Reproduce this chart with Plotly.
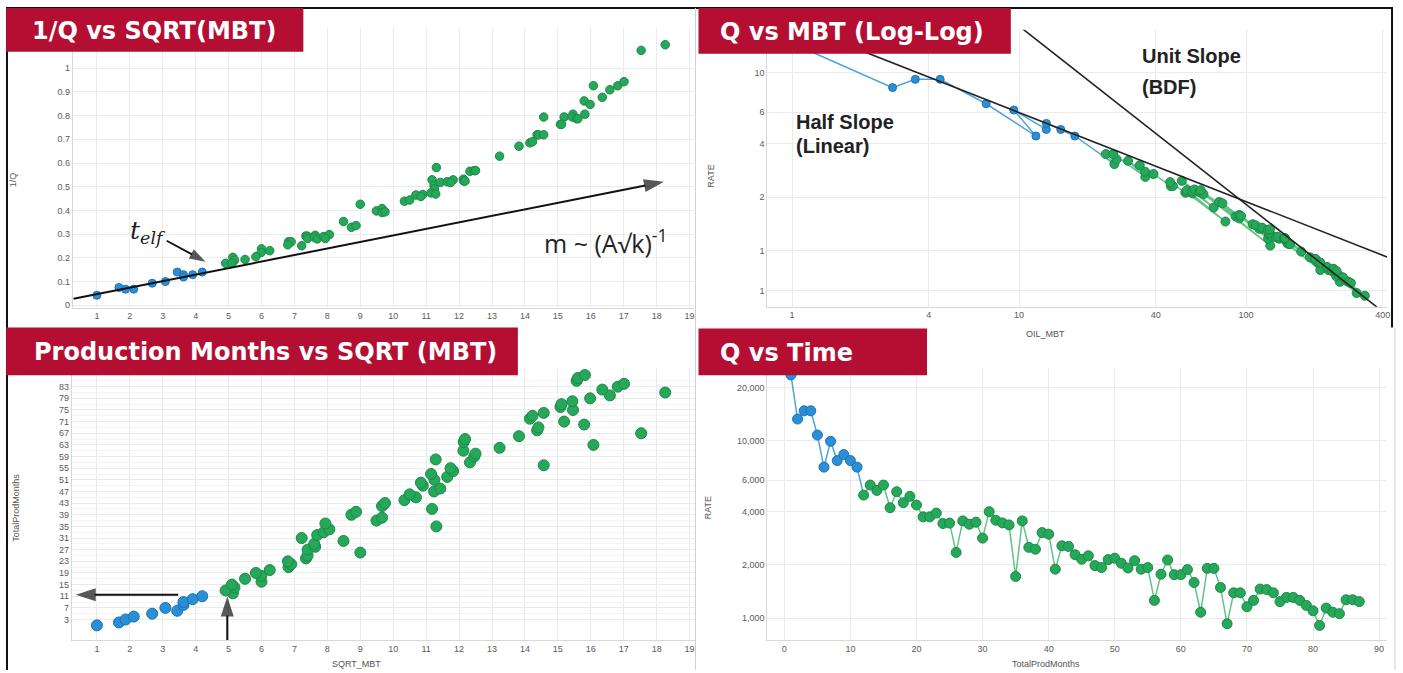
import plotly.graph_objects as go

# ---------------- data ----------------
months = [1, 2, 3, 4, 5, 6, 7, 8, 9, 10, 11, 12, 13, 14, 15, 16, 17, 18, 19, 20,
          21, 22, 23, 24, 25, 26, 27, 28, 29, 30, 31, 32, 33, 34, 35, 36, 37, 38, 39, 40,
          41, 42, 43, 44, 45, 46, 47, 48, 49, 50, 51, 52, 53, 54, 55, 56, 57, 58, 59, 60,
          61, 62, 63, 64, 65, 66, 67, 68, 69, 70, 71, 72, 73, 74, 75, 76, 77, 78, 79, 80,
          81, 82, 83, 84, 85, 86, 87]

rate = [23600, 13300, 14800, 14800, 10800, 7120, 9960, 7750, 8380, 7750, 7120,
        4950, 5640, 5260, 5640, 4200, 5170, 4480, 4870, 4350, 3730, 3730, 3920, 3420,
        3440, 2350, 3540, 3390, 3480, 2830, 3990, 3570, 3450, 3360, 1720, 3540, 2510,
        2450, 3040, 2980, 1890, 2560, 2540, 2280, 2150, 2250, 1980, 1930, 2140, 2180,
        2040, 1920, 2110, 1890, 1930, 1260, 1770, 2130, 1760, 1760, 1880, 1590, 1080,
        1910, 1910, 1490, 930, 1390, 1390, 1160, 1260, 1460, 1450, 1390, 1240, 1310,
        1310, 1260, 1180, 1100, 910, 1140, 1080, 1060, 1270, 1270, 1240]

sqrt_mbt = [1.00, 1.67, 1.87, 2.12, 2.68, 3.44, 3.08, 3.63, 3.63, 3.91, 4.20,
            5.13, 4.91, 5.18, 5.10, 6.00, 5.50, 5.99, 5.83, 6.25, 6.82, 6.90, 6.80, 7.35,
            7.40, 9.00, 7.40, 7.63, 7.60, 8.49, 7.22, 7.69, 7.89, 8.06, 11.31, 7.94, 9.49,
            9.66, 8.73, 8.87, 11.18, 9.66, 9.75, 10.34, 10.69, 10.50, 11.24, 11.43, 10.90,
            10.84, 11.25, 11.64, 11.15, 11.82, 11.74, 14.57, 12.33, 11.29, 12.46, 12.50,
            12.13, 13.23, 16.08, 12.14, 12.18, 13.82, 17.53, 14.37, 14.41, 15.80, 15.19,
            14.15, 14.23, 14.57, 15.46, 15.08, 15.11, 15.44, 15.98, 16.58, 18.26, 16.35,
            16.82, 17.01, 15.57, 15.61, 15.82]

inv_q = [0.042, 0.075, 0.068, 0.068, 0.093, 0.140, 0.100, 0.129, 0.119, 0.129, 0.140,
         0.202, 0.177, 0.190, 0.177, 0.238, 0.193, 0.223, 0.205, 0.230, 0.268, 0.268,
         0.255, 0.292, 0.291, 0.426, 0.282, 0.295, 0.287, 0.353, 0.251, 0.280, 0.290,
         0.298, 0.581, 0.282, 0.398, 0.408, 0.329, 0.336, 0.529, 0.391, 0.394, 0.439,
         0.465, 0.444, 0.505, 0.518, 0.467, 0.459, 0.490, 0.521, 0.474, 0.529, 0.518,
         0.794, 0.565, 0.469, 0.568, 0.568, 0.532, 0.629, 0.926, 0.524, 0.524, 0.671,
         1.075, 0.719, 0.719, 0.862, 0.794, 0.685, 0.690, 0.719, 0.806, 0.763, 0.763,
         0.794, 0.847, 0.909, 1.099, 0.877, 0.926, 0.943, 0.787, 0.787, 0.806]

oil_mbt = [1.0, 2.77, 3.49, 4.49, 7.16, 11.86, 9.48, 13.18, 13.19, 15.26, 17.61,
           26.3, 24.1, 26.9, 26.0, 36.0, 30.2, 35.9, 34.0, 39.1, 46.6, 47.6, 46.3, 54.0,
           54.7, 81.1, 54.8, 58.2, 57.7, 72.0, 52.1, 59.2, 62.3, 64.9, 127.8, 63.1, 90.0,
           93.2, 76.1, 78.7, 125.0, 93.3, 95.0, 106.9, 114.3, 110.2, 126.3, 130.5, 118.7,
           117.6, 126.6, 135.5, 124.3, 139.8, 137.9, 212.3, 152.1, 127.4, 155.2, 156.2,
           147.2, 175.0, 258.7, 147.3, 148.3, 191.1, 307.1, 206.5, 207.5, 249.6, 230.8,
           200.2, 202.6, 212.3, 239.0, 227.2, 228.2, 238.3, 255.5, 275.0, 333.5, 267.2,
           283.0, 289.4, 242.5, 243.5, 250.4]

rate_loglog = [14.62, 8.24, 9.17, 9.17, 6.69, 4.41, 6.17, 4.80, 5.19, 4.80, 4.41,
               3.07, 3.49, 3.26, 3.49, 2.60, 3.20, 2.78, 3.02, 2.70, 2.31, 2.31, 2.43,
               2.12, 2.13, 1.46, 2.19, 2.10, 2.16, 1.75, 2.47, 2.21, 2.14, 2.08, 1.07,
               2.19, 1.56, 1.52, 1.88, 1.85, 1.17, 1.59, 1.57, 1.41, 1.33, 1.39, 1.23,
               1.20, 1.33, 1.35, 1.26, 1.19, 1.31, 1.17, 1.20, 0.78, 1.10, 1.32, 1.09,
               1.09, 1.16, 0.99, 0.67, 1.18, 1.18, 0.92, 0.58, 0.86, 0.86, 0.72, 0.78,
               0.90, 0.90, 0.86, 0.77, 0.81, 0.81, 0.78, 0.73, 0.68, 0.56, 0.71, 0.67,
               0.66, 0.79, 0.79, 0.77]

N_EARLY = 11  # early-time (linear flow) points drawn in blue

half_slope_x = [1.2, 430]
half_slope_y = [17.25, 0.911]
unit_slope_x = [10.0, 400]
unit_slope_y = [18.25, 0.456]

# annotation arrows (tail -> tip), in data units of their panel
trend_arrow_x = [0.29, 18.22]
trend_arrow_y = [0.027, 0.521]
telf_arrow_x = [3.12, 4.30]
telf_arrow_y = [0.272, 0.184]
months_arrow_x = [3.47, 0.36]
months_arrow_y = [11.5, 11.5]
telf_mark_x = [4.96, 4.96]
telf_mark_y = [-4.08, 10.9]

sqrt_ticks = list(range(1, 20))
invq_ticks = [0, 0.1, 0.2, 0.3, 0.4, 0.5, 0.6, 0.7, 0.8, 0.9, 1]
invq_labels = ["0", "0.1", "0.2", "0.3", "0.4", "0.5", "0.6", "0.7", "0.8", "0.9", "1"]
mbt_ticks = [1, 4, 10, 40, 100, 400]
ll_rate_ticks = [0.6, 1, 2, 4, 6, 10]
ll_rate_labels = ["1", "1", "2", "4", "6", "10"]
month_ticks = [3, 7, 11, 15, 19, 23, 27, 31, 35, 39, 43, 47, 51, 55, 59, 63, 67, 71, 75, 79, 83]
time_ticks = [0, 10, 20, 30, 40, 50, 60, 70, 80, 90]
rate_ticks = [1000, 2000, 4000, 6000, 10000, 20000]
rate_labels = ["1,000", "2,000", "4,000", "6,000", "10,000", "20,000"]

titles = ["1/Q vs SQRT(MBT)", "Q vs MBT (Log-Log)",
          "Production Months vs SQRT (MBT)", "Q vs Time"]

# ---------------- styling ----------------
W, H = 1403, 673
BLUE = "#2a8fd6"
BLUE_DK = "#1d72b3"
BLUE_LN = "#4aa3df"
GREEN = "#26a85a"
GREEN_DK = "#1b8a47"
GREEN_LN = "#62c287"
RED = "#b40e32"
GRID = "#ebebeb"
TICKFONT = dict(family="Liberation Sans, Arial, sans-serif", size=9, color="#5a5a5a")


def px(x):
    return x / W


def py(y):
    return 1 - y / H


b = N_EARLY
fig = go.Figure()

# Panel 1: 1/Q vs SQRT(MBT)
fig.add_trace(go.Scatter(x=sqrt_mbt[:b], y=inv_q[:b], mode="markers", xaxis="x", yaxis="y",
                         marker=dict(size=8, color=BLUE, line=dict(color=BLUE_DK, width=1))))
fig.add_trace(go.Scatter(x=sqrt_mbt[b:], y=inv_q[b:], mode="markers", xaxis="x", yaxis="y",
                         marker=dict(size=8.5, color=GREEN, line=dict(color=GREEN_DK, width=1))))

# Panel 2: Q vs MBT (log-log)
fig.add_trace(go.Scatter(x=oil_mbt[b - 1:b + 1], y=rate_loglog[b - 1:b + 1], mode="lines",
                         xaxis="x2", yaxis="y2", line=dict(color=BLUE_LN, width=1.5)))
fig.add_trace(go.Scatter(x=oil_mbt[:b], y=rate_loglog[:b], mode="lines+markers",
                         xaxis="x2", yaxis="y2", line=dict(color=BLUE_LN, width=1.5),
                         marker=dict(size=8, color=BLUE, line=dict(color=BLUE_DK, width=1))))
fig.add_trace(go.Scatter(x=oil_mbt[b:], y=rate_loglog[b:], mode="lines+markers",
                         xaxis="x2", yaxis="y2", line=dict(color=GREEN_LN, width=1.5),
                         marker=dict(size=9, color=GREEN, line=dict(color=GREEN_DK, width=1))))
fig.add_trace(go.Scatter(x=half_slope_x, y=half_slope_y, mode="lines", xaxis="x2", yaxis="y2",
                         line=dict(color="#222222", width=1.6)))
fig.add_trace(go.Scatter(x=unit_slope_x, y=unit_slope_y, mode="lines", xaxis="x2", yaxis="y2",
                         line=dict(color="#222222", width=1.6)))

# Panel 3: Production months vs SQRT(MBT)
fig.add_trace(go.Scatter(x=sqrt_mbt[:b], y=months[:b], mode="markers", xaxis="x3", yaxis="y3",
                         marker=dict(size=11, color=BLUE, line=dict(color=BLUE_DK, width=1))))
fig.add_trace(go.Scatter(x=sqrt_mbt[b:], y=months[b:], mode="markers", xaxis="x3", yaxis="y3",
                         marker=dict(size=11, color=GREEN, line=dict(color=GREEN_DK, width=1))))

# Panel 4: Q vs Time
fig.add_trace(go.Scatter(x=months[b - 1:b + 1], y=rate[b - 1:b + 1], mode="lines",
                         xaxis="x4", yaxis="y4", line=dict(color=BLUE_LN, width=1.5)))
fig.add_trace(go.Scatter(x=months[:b], y=rate[:b], mode="lines+markers", xaxis="x4", yaxis="y4",
                         line=dict(color=BLUE_LN, width=1.5),
                         marker=dict(size=10, color=BLUE, line=dict(color=BLUE_DK, width=1))))
fig.add_trace(go.Scatter(x=months[b:], y=rate[b:], mode="lines+markers", xaxis="x4", yaxis="y4",
                         line=dict(color=GREEN_LN, width=1.5),
                         marker=dict(size=10, color=GREEN, line=dict(color=GREEN_DK, width=1))))


# Arrows drawn as line traces with an arrow marker at the tip
def arrow(xs, ys, xa, ya, width=2, head=21):
    fig.add_trace(go.Scatter(x=xs, y=ys, mode="lines+markers", xaxis=xa, yaxis=ya,
                             line=dict(color="#111111", width=width),
                             marker=dict(symbol="arrow", angleref="previous", size=[0, head],
                                         color="#111111", line=dict(width=0)),
                             cliponaxis=False))


arrow(trend_arrow_x, trend_arrow_y, "x", "y")
arrow(telf_arrow_x, telf_arrow_y, "x", "y", width=1.8, head=17)
arrow(months_arrow_x, months_arrow_y, "x3", "y3")
arrow(telf_mark_x, telf_mark_y, "x3", "y3")


def axis(**kw):
    d = dict(showgrid=True, gridcolor=GRID, gridwidth=1, zeroline=False, showline=True,
             linecolor="#d8d8d8", linewidth=1, ticks="", tickfont=TICKFONT, fixedrange=True)
    d.update(kw)
    return d


fig.update_layout(
    width=W, height=H, autosize=False, showlegend=False,
    margin=dict(l=0, r=0, t=0, b=0),
    paper_bgcolor="white", plot_bgcolor="white",
    xaxis=axis(domain=[px(73), px(695)], range=[0.27, 19.12], tickvals=sqrt_ticks, anchor="y"),
    yaxis=axis(domain=[py(309), py(28)], range=[-0.01, 1.17], tickvals=invq_ticks,
               ticktext=invq_labels, anchor="x"),
    xaxis2=axis(type="log", domain=[px(769), px(1390)], range=[-0.109, 2.621],
                tickvals=mbt_ticks, ticktext=[str(v) for v in mbt_ticks], anchor="y2"),
    yaxis2=axis(type="log", domain=[py(308), py(30)], range=[-0.313, 1.240],
                tickvals=ll_rate_ticks, ticktext=ll_rate_labels, anchor="x2"),
    xaxis3=axis(domain=[px(72), px(696)], range=[0.24, 19.15], tickvals=sqrt_ticks, anchor="y3"),
    yaxis3=axis(domain=[py(643), py(370)], range=[-4.08, 89.3], tickvals=month_ticks, anchor="x3",
                minor=dict(tickvals=[v + 2 for v in month_ticks], showgrid=True,
                           gridcolor="#f3f3f3")),
    xaxis4=axis(domain=[px(769), px(1390)], range=[-2.57, 91.2], tickvals=time_ticks, anchor="y4"),
    yaxis4=axis(type="log", domain=[py(643), py(370)], range=[2.876, 4.41],
                tickvals=rate_ticks, ticktext=rate_labels, anchor="x4"),
)

ann = []
AXT = dict(family="Liberation Sans, Arial, sans-serif", size=9, color="#555555")
C = dict(xref="paper", yref="paper", xanchor="center", yanchor="middle", showarrow=False)
# axis titles
ann += [
    dict(text="1/Q", x=px(13), y=py(180), textangle=-90, font=AXT, **C),
    dict(text="RATE", x=px(713), y=py(177), textangle=-90, font=AXT, **C),
    dict(text="OIL_MBT", x=px(1048), y=py(335), font=AXT, **C),
    dict(text="TotalProdMonths", x=px(16), y=py(510), textangle=-90, font=AXT, **C),
    dict(text="SQRT_MBT", x=px(357), y=py(667), font=AXT, **C),
    dict(text="RATE", x=px(709), y=py(510), textangle=-90, font=AXT, **C),
    dict(text="TotalProdMonths", x=px(1048), y=py(667), font=AXT, **C),
]

# panel 1 labels
ann += [
    dict(x=2.55, y=0.31, xref="x", yref="y", showarrow=False, xanchor="center",
         yanchor="middle", text="<i>t</i><sub><i>elf</i></sub>",
         font=dict(family="DejaVu Serif, Liberation Serif, serif", size=25, color="#222222")),
    dict(x=16.45, y=0.268, xref="x", yref="y", showarrow=False, xanchor="center",
         yanchor="middle", text="m ~ (A\u221ak)<sup>-1</sup>",
         font=dict(family="Open Sans, Liberation Sans, sans-serif", size=25, color="#222222")),
]

# panel 2 labels
LBL = dict(family="Liberation Sans, Arial, sans-serif", size=20, color="#222222")
L = dict(xref="paper", yref="paper", xanchor="left", yanchor="middle", showarrow=False)
ann += [
    dict(text="<b>Unit Slope</b>", x=px(1142), y=py(56), font=LBL, **L),
    dict(text="<b>(BDF)</b>", x=px(1142), y=py(87), font=LBL, **L),
    dict(text="<b>Half Slope</b>", x=px(796), y=py(123), font=LBL, **L),
    dict(text="<b>(Linear)</b>", x=px(796), y=py(147), font=LBL, **L),
]

# title banners
boxes = [(6, 8, 304, 52), (700, 8, 1013, 54), (6, 329, 519, 377), (700, 330, 929, 377)]
text_x = [30, 720, 32, 720]
shapes = []
for (x0, y0, x1, y1), tx, t in zip(boxes, text_x, titles):
    shapes.append(dict(type="rect", xref="paper", yref="paper", x0=px(x0), x1=px(x1),
                       y0=py(y1), y1=py(y0), fillcolor=RED, line=dict(width=0), layer="above"))
    ann.append(dict(text="<b>" + t + "</b>", x=px(tx), y=py((y0 + y1) / 2 + 1),
                    font=dict(family="DejaVu Sans, Inter, sans-serif", size=24, color="white"),
                    **L))

# frame lines
frame = [
    (7, 8, 7, 673, "#111111", 2),
    (6, 8, 1396, 8, "#111111", 2),
    (1395, 8, 1395, 329, "#111111", 2),
    (697, 8, 697, 673, "#d0d0d0", 1),
    (1398, 330, 1398, 673, "#d0d0d0", 1),
]
for x0, y0, x1, y1, c, w in frame:
    shapes.append(dict(type="line", xref="paper", yref="paper", x0=px(x0), x1=px(x1),
                       y0=py(y0), y1=py(y1), line=dict(color=c, width=w), layer="below"))

fig.update_layout(annotations=ann, shapes=shapes)
fig.write_html("out.html", config={"displayModeBar": False},
               post_script="document.body.style.margin='0px';"
                           "document.body.style.overflow='hidden';")
